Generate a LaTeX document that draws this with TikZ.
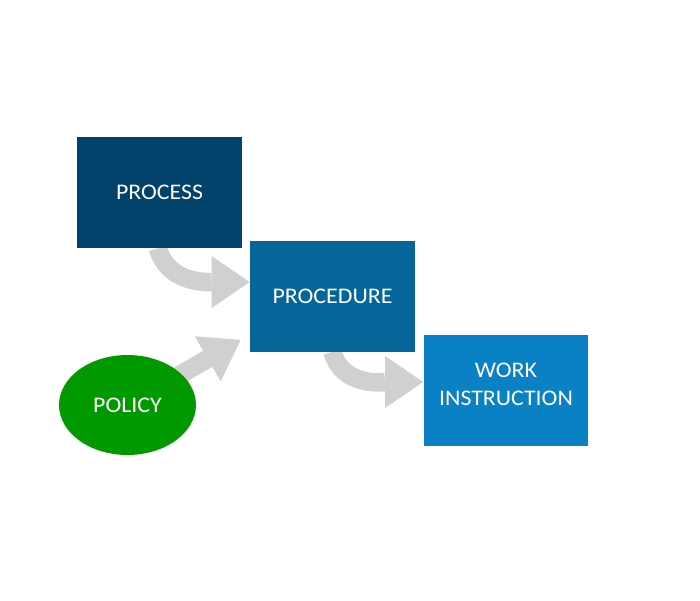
\documentclass[tikz,border=0pt]{standalone}
\usepackage{fontspec}
\setmainfont{Carlito}[FakeStretch=1.07]
\usetikzlibrary{arrows.meta,shapes.geometric,backgrounds}
\definecolor{processblue}{HTML}{03426A}
\definecolor{procedureblue}{HTML}{066699}
\definecolor{workblue}{HTML}{0A80C5}
\definecolor{policygreen}{HTML}{009A00}
\definecolor{arrowgray}{HTML}{D0D0D0}
\tikzset{
  box/.style={rectangle, minimum width=3.3cm, minimum height=2.22cm, inner sep=0pt,
    text=white, align=center, font=\fontsize{12.7}{16.2}\selectfont},
  flow/.style={arrowgray, line width=0.37cm,
    -{Triangle[width=1.04cm,length=0.76cm,line width=0pt]}}
}
\begin{document}
\begin{tikzpicture}[x=0.02cm,y=-0.02cm]
\useasboundingbox (0,0) rectangle (700,600);

\node[box, fill=processblue] (process) at (159.5,192.5) {PROCESS};
\node[box, fill=procedureblue] (procedure) at (332.5,296) {PROCEDURE};
\node[box, fill=workblue, text depth=0.24cm] (work) at (506,390.5) {WORK\\INSTRUCTION};
\node[ellipse, fill=policygreen, minimum width=2.74cm, minimum height=2cm, inner sep=0pt,
  text=white, font=\fontsize{12.7}{16.2}\selectfont] (policy) at (127.5,405) {POLICY};

% grey arrows behind the shapes
\begin{pgfonlayer}{background}
\draw[flow] ([xshift=-0.03cm]process.south) to[out=-75,in=180] ([yshift=0.28cm]procedure.west);
\draw[flow] (policy.center) -- ([xshift=-0.18cm,yshift=0.24cm]procedure.south west);
\draw[flow] (procedure.south) to[out=-75,in=180] ([yshift=0.17cm]work.west);
\end{pgfonlayer}
\end{tikzpicture}
\end{document}
